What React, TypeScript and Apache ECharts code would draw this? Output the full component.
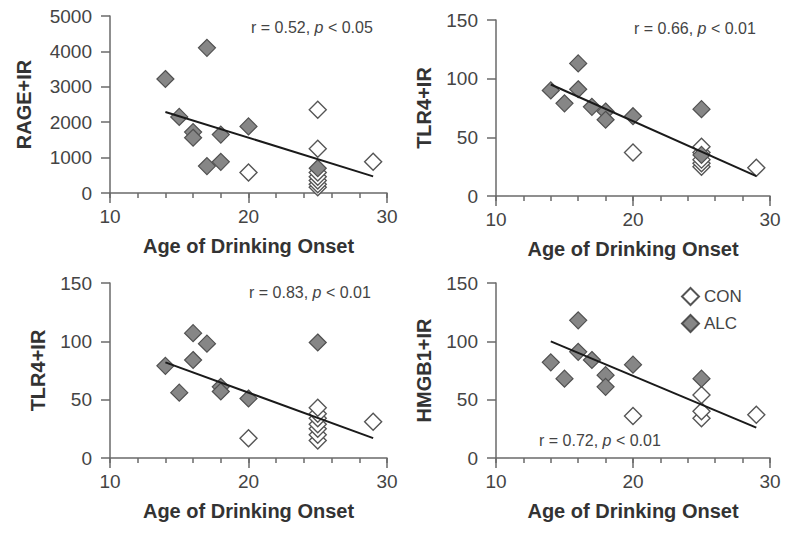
import React, { useEffect, useRef } from "react";
import * as echarts from "echarts";

// Panel 1: RAGE+IR
const rageALC: number[][] = [[14, 3220], [15, 2150], [16, 1720], [16, 1560], [17, 4100], [17, 760], [18, 880], [18, 1650], [20, 1880], [25, 700]];
const rageCON: number[][] = [[20, 580], [25, 160], [25, 250], [25, 350], [25, 460], [25, 580], [25, 1250], [25, 2350], [29, 880]];
const rageFit: number[][] = [[14, 2290], [29, 470]];

// Panel 2: TLR4+IR (top)
const tlrTopALC: number[][] = [[14, 90], [15, 79], [16, 113], [16, 91], [17, 76], [18, 72], [18, 65], [20, 68], [25, 74], [25, 35]];
const tlrTopCON: number[][] = [[20, 37], [25, 25], [25, 28], [25, 31], [25, 37], [25, 42], [29, 24]];
const tlrTopFit: number[][] = [[14, 95], [29, 17]];

// Panel 3: TLR4+IR (bottom)
const tlrBotALC: number[][] = [[14, 79], [15, 56], [16, 107], [16, 84], [17, 98], [18, 61], [18, 57], [20, 51], [25, 99]];
const tlrBotCON: number[][] = [[20, 17], [25, 15], [25, 20], [25, 25], [25, 29], [25, 34], [25, 38], [25, 43], [29, 31]];
const tlrBotFit: number[][] = [[14, 82], [29, 17]];

// Panel 4: HMGB1+IR
const hmgALC: number[][] = [[14, 82], [15, 68], [16, 118], [16, 91], [17, 84], [18, 71], [18, 61], [20, 80], [25, 68]];
const hmgCON: number[][] = [[20, 36], [25, 34], [25, 40], [25, 54], [29, 37]];
const hmgFit: number[][] = [[14, 100], [29, 26]];

const yTitles = ["RAGE+IR", "TLR4+IR", "TLR4+IR", "HMGB1+IR"];
const yMaxes = [5000, 150, 150, 150];
const yIntervals = [1000, 50, 50, 50];
const xTitle = "Age of Drinking Onset";
const stats = [
  "r = 0.52, {i|p} < 0.05",
  "r = 0.66, {i|p} < 0.01",
  "r = 0.83, {i|p} < 0.01",
  "r = 0.72, {i|p} < 0.01",
];

const FONT = "Liberation Sans, Arial, sans-serif";
const AXIS_COLOR = "#6a6a6a";
const TEXT_COLOR = "#444";

export default function App() {
  const ref = useRef<HTMLDivElement>(null);
  useEffect(() => {
    if (!ref.current) return;
    const chart = echarts.init(ref.current, null, { renderer: "svg" });

    const grids = [
      { left: 110, top: 16, width: 277, height: 177 },
      { left: 496, top: 20, width: 274, height: 176 },
      { left: 110, top: 283, width: 277, height: 175 },
      { left: 496, top: 283, width: 274, height: 175 },
    ];
    const yNameGaps = [76, 62, 62, 62];
    const alc = [rageALC, tlrTopALC, tlrBotALC, hmgALC];
    const con = [rageCON, tlrTopCON, tlrBotCON, hmgCON];
    const fits = [rageFit, tlrTopFit, tlrBotFit, hmgFit];
    const statPos = [
      [251, 27],
      [634, 28],
      [249, 292],
      [539, 440],
    ];

    const lineStyle = { color: AXIS_COLOR, width: 1.5 };

    // main x axis: ticks every 2 years, labels every 10
    const xMain = grids.map((_, i) => ({
      type: "value",
      gridIndex: i,
      position: "bottom",
      min: 10,
      max: 30,
      interval: 2,
      axisLine: { show: true, onZero: false, lineStyle },
      axisTick: { show: true, length: 5, lineStyle },
      splitLine: { show: false },
      axisLabel: {
        fontSize: 19,
        color: TEXT_COLOR,
        margin: 14,
        fontFamily: FONT,
        formatter: (v: number) => (v % 10 === 0 ? String(v) : ""),
      },
      name: xTitle,
      nameLocation: "middle",
      nameGap: 43,
      nameTextStyle: { fontSize: 20, fontWeight: "bold", color: "#333", fontFamily: FONT },
    }));
    // longer major ticks every 10 years
    const xMajor = grids.map((_, i) => ({
      type: "value",
      gridIndex: i,
      position: "bottom",
      offset: 0,
      min: 10,
      max: 30,
      interval: 10,
      axisLine: { show: false, onZero: false },
      axisTick: { show: true, length: 10, lineStyle },
      splitLine: { show: false },
      axisLabel: { show: false },
    }));

    const yAxis = grids.map((_, i) => ({
      type: "value",
      gridIndex: i,
      min: 0,
      max: yMaxes[i],
      interval: yIntervals[i],
      axisLine: { show: true, lineStyle },
      axisTick: { show: true, length: 9, lineStyle },
      splitLine: { show: false },
      axisLabel: {
        fontSize: 19,
        color: TEXT_COLOR,
        margin: 18,
        fontFamily: FONT,
        formatter: (v: number) => String(v),
      },
      name: yTitles[i],
      nameLocation: "middle",
      nameGap: yNameGaps[i],
      nameRotate: 90,
      nameTextStyle: { fontSize: 20, fontWeight: "bold", color: "#333", fontFamily: FONT },
    }));

    const series: any[] = [];
    grids.forEach((_, i) => {
      series.push({
        name: "CON",
        type: "scatter",
        xAxisIndex: i,
        yAxisIndex: i,
        data: con[i],
        symbol: "diamond",
        symbolSize: 17,
        itemStyle: { color: "#ffffff", borderColor: "#555", borderWidth: 1.4, opacity: 1 },
        z: 2,
      });
      series.push({
        name: "ALC",
        type: "scatter",
        xAxisIndex: i,
        yAxisIndex: i,
        data: alc[i],
        symbol: "diamond",
        symbolSize: 17,
        itemStyle: { color: "#868686", borderColor: "#505050", borderWidth: 1.2, opacity: 1 },
        z: 3,
      });
      series.push({
        name: "fit" + i,
        type: "line",
        xAxisIndex: i,
        yAxisIndex: i,
        data: fits[i],
        symbol: "none",
        lineStyle: { color: "#1a1a1a", width: 2 },
        z: 4,
      });
    });

    const graphic = stats.map((s, i) => ({
      type: "text",
      x: statPos[i][0],
      y: statPos[i][1],
      style: {
        text: s,
        fontSize: 16,
        fontFamily: FONT,
        fill: TEXT_COLOR,
        verticalAlign: "middle",
        rich: {
          i: { fontStyle: "italic", fontSize: 16, fontFamily: FONT, fill: TEXT_COLOR },
        },
      },
    }));

    chart.setOption({
      animation: false,
      backgroundColor: "#ffffff",
      grid: grids,
      xAxis: [...xMain, ...xMajor],
      yAxis,
      series,
      graphic,
      legend: {
        data: ["CON", "ALC"],
        orient: "vertical",
        left: 676,
        top: 282,
        icon: "diamond",
        itemWidth: 17,
        itemHeight: 17,
        itemGap: 8,
        textStyle: { fontSize: 17, color: TEXT_COLOR, fontFamily: FONT },
        selectedMode: false,
      },
    });

    return () => chart.dispose();
  }, []);

  return (
    <div
      ref={ref}
      style={{ position: "fixed", left: 0, top: 0, width: 785, height: 533 }}
    />
  );
}
